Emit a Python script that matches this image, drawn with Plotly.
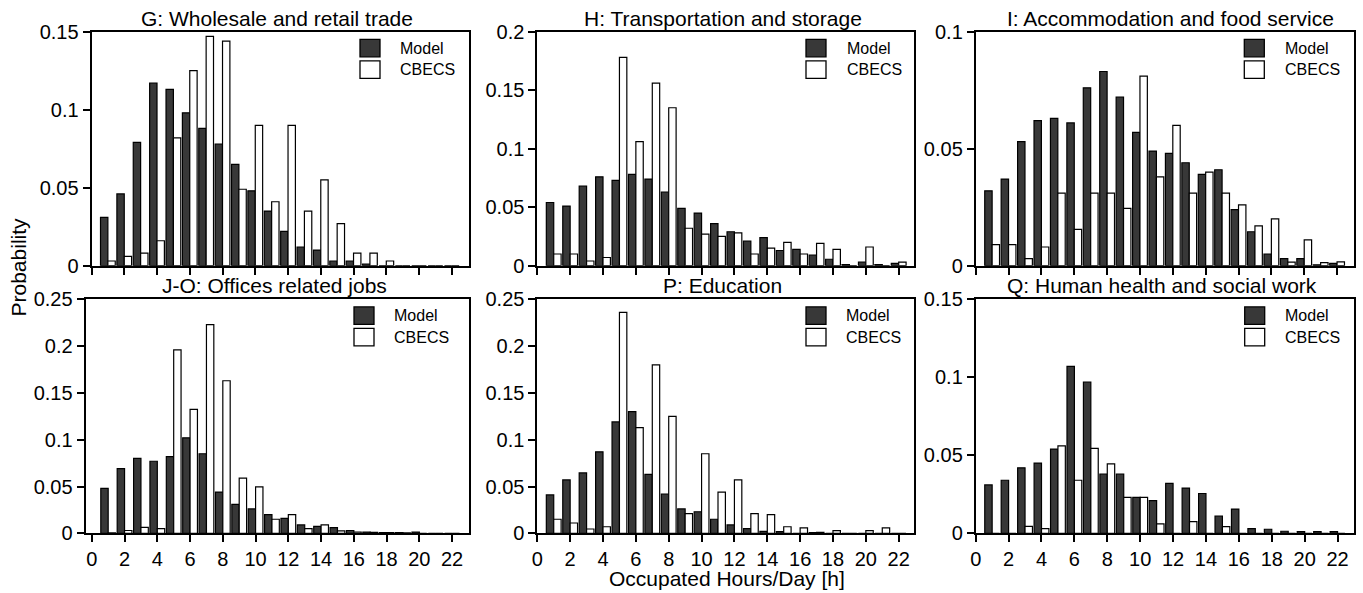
import plotly.graph_objects as go

W, H = 1363, 593

hours = list(range(1, 23))
x_ticks = list(range(0, 23, 2))

titles = ["G: Wholesale and retail trade", "H: Transportation and storage",
          "I: Accommodation and food service", "J-O: Offices related jobs",
          "P: Education", "Q: Human health and social work"]

G_model = [0.031, 0.046, 0.079, 0.117, 0.113, 0.098, 0.088, 0.078, 0.065, 0.048, 0.035,
           0.022, 0.012, 0.010, 0.003, 0.003, 0.001, 0, 0, 0, 0, 0]
G_cbecs = [0.003, 0.006, 0.008, 0.016, 0.082, 0.125, 0.147, 0.144, 0.049, 0.090, 0.041,
           0.090, 0.035, 0.055, 0.027, 0.008, 0.008, 0.003, 0, 0, 0, 0]

H_model = [0.054, 0.051, 0.068, 0.076, 0.073, 0.078, 0.074, 0.063, 0.049, 0.045, 0.036,
           0.029, 0.021, 0.024, 0.013, 0.014, 0.009, 0.0055, 0.001, 0.003, 0.001, 0.002]
H_cbecs = [0.010, 0.010, 0.004, 0.007, 0.178, 0.106, 0.156, 0.135, 0.032, 0.027, 0.025,
           0.028, 0.010, 0.015, 0.020, 0.010, 0.019, 0.014, 0, 0.016, 0, 0.003]

I_model = [0.032, 0.037, 0.053, 0.062, 0.063, 0.061, 0.076, 0.083, 0.072, 0.057, 0.049,
           0.048, 0.044, 0.039, 0.041, 0.024, 0.0145, 0.005, 0.003, 0.003, 0.0004, 0.001]
I_cbecs = [0.009, 0.009, 0.003, 0.008, 0.031, 0.0155, 0.031, 0.031, 0.0245, 0.081, 0.038,
           0.060, 0.031, 0.040, 0.031, 0.026, 0.017, 0.020, 0.0015, 0.011, 0.0013, 0.0016]

JO_model = [0.048, 0.069, 0.080, 0.077, 0.082, 0.102, 0.085, 0.044, 0.031, 0.026, 0.020,
            0.016, 0.009, 0.0075, 0.006, 0.003, 0.0014, 0.0007, 0.0007, 0.0014, 0, 0]
JO_cbecs = [0.0004, 0.003, 0.0064, 0.005, 0.196, 0.1325, 0.223, 0.163, 0.059, 0.0495, 0.015,
            0.020, 0.005, 0.009, 0.0025, 0.0014, 0.001, 0.0007, 0.0004, 0, 0, 0]

P_model = [0.041, 0.057, 0.0645, 0.087, 0.119, 0.130, 0.063, 0.042, 0.026, 0.023, 0.015,
           0.009, 0.005, 0.002, 0.0018, 0, 0.0007, 0, 0, 0, 0, 0]
P_cbecs = [0.015, 0.011, 0.0046, 0.007, 0.236, 0.113, 0.180, 0.125, 0.021, 0.085, 0.044,
           0.057, 0.021, 0.020, 0.007, 0.0057, 0.001, 0.0028, 0, 0.0028, 0.0057, 0]

Q_model = [0.031, 0.034, 0.042, 0.045, 0.054, 0.107, 0.097, 0.038, 0.038, 0.023, 0.021,
           0.032, 0.029, 0.0255, 0.011, 0.0155, 0.003, 0.0026, 0.0013, 0.0011, 0.0011, 0.0011]
Q_cbecs = [0, 0, 0.0045, 0.003, 0.056, 0.034, 0.0545, 0.0445, 0.023, 0.023, 0.006,
           0, 0.0075, 0, 0.0043, 0, 0, 0, 0, 0, 0, 0]

y_ticks = [
    [0, 0.05, 0.1, 0.15],
    [0, 0.05, 0.1, 0.15, 0.2],
    [0, 0.05, 0.1],
    [0, 0.05, 0.1, 0.15, 0.2, 0.25],
    [0, 0.05, 0.1, 0.15, 0.2, 0.25],
    [0, 0.05, 0.1, 0.15],
]
y_tick_text = [[("0" if v == 0 else f"{v:g}") for v in t] for t in y_ticks]

model_series = [G_model, H_model, I_model, JO_model, P_model, Q_model]
cbecs_series = [G_cbecs, H_cbecs, I_cbecs, JO_cbecs, P_cbecs, Q_cbecs]

# layout geometry (pixels)
panel_px = [  # x0, x1, xmin, xmax, y0(top), y1(bottom)
    (91.5, 469.0, 0.0, 23.05, 31.7, 265.7),
    (537.3, 914.3, 0.0, 22.95, 31.7, 265.7),
    (975.7, 1353.5, 0.0, 23.0, 31.7, 265.7),
    (85.5, 469.3, -0.385, 23.05, 299.3, 533.3),
    (537.3, 914.3, 0.0, 22.95, 299.3, 533.3),
    (975.7, 1354.0, 0.0, 23.0, 299.3, 533.3),
]
title_cx = [276.5, 722.5, 1170, 274, 722, 1161.7]
legend_px = [(360, 398.3), (806, 845), (1244.3, 1283.3), (354, 391.7), (806, 844), (1244.7, 1283.3)]

FONT = "Arial, Liberation Sans, sans-serif"
DARK = "#383838"

fx = lambda p: p / W
fy = lambda p: 1 - p / H

fig = go.Figure()
layout = dict(
    width=W, height=H, margin=dict(l=0, r=0, t=0, b=0, autoexpand=False),
    paper_bgcolor="white", plot_bgcolor="white",
    barmode="group", bargap=0.1, bargroupgap=0.0,
    showlegend=False,
    font=dict(family=FONT, size=20, color="black"),
)
annotations = []
shapes = []

for i in range(6):
    n = "" if i == 0 else str(i + 1)
    x0, x1, xmin, xmax, ytop, ybot = panel_px[i]
    fig.add_trace(go.Bar(x=hours, y=model_series[i], name="Model",
                         marker=dict(color=DARK, line=dict(color="black", width=1.2)),
                         xaxis="x" + n, yaxis="y" + n))
    fig.add_trace(go.Bar(x=hours, y=cbecs_series[i], name="CBECS",
                         marker=dict(color="white", line=dict(color="black", width=1.2)),
                         xaxis="x" + n, yaxis="y" + n))
    layout["xaxis" + n] = dict(
        domain=[fx(x0), fx(x1)], range=[xmin, xmax], anchor="y" + n,
        tickvals=x_ticks, ticktext=[str(v) for v in x_ticks],
        showticklabels=(i >= 3), ticks="outside", ticklen=7, tickwidth=1.5,
        tickcolor="black", showline=True, linecolor="black", linewidth=1.8,
        mirror=True, showgrid=False, zeroline=False, automargin=False,
        tickfont=dict(size=20, family=FONT),
    )
    ymax = y_ticks[i][-1]
    layout["yaxis" + n] = dict(
        domain=[fy(ybot), fy(ytop)], range=[0, ymax], anchor="x" + n,
        tickvals=y_ticks[i], ticktext=y_tick_text[i],
        ticks="outside", ticklen=7, tickwidth=1.5, tickcolor="black",
        showline=True, linecolor="black", linewidth=1.8, mirror=True, automargin=False,
        showgrid=False, zeroline=False, tickfont=dict(size=20, family=FONT),
    )
    annotations.append(dict(text=titles[i], x=fx(title_cx[i]), y=fy(ytop),
                            xref="paper", yref="paper", xanchor="center", yanchor="bottom",
                            showarrow=False, font=dict(size=21, family=FONT)))
    # legend
    sx, tx = legend_px[i]
    for k, (lab, col) in enumerate([("Model", DARK), ("CBECS", "white")]):
        sy0 = ytop + 7.6 + k * 21.5
        shapes.append(dict(type="rect", xref="paper", yref="paper",
                           x0=fx(sx), x1=fx(sx + 20), y0=fy(sy0), y1=fy(sy0 + 17.5),
                           fillcolor=col, line=dict(color="black", width=1.3)))
        annotations.append(dict(text=lab, x=fx(tx), y=fy(sy0 + 8.75), xref="paper", yref="paper",
                                xanchor="left", yanchor="middle", showarrow=False,
                                font=dict(size=16, family=FONT)))

annotations.append(dict(text="Probability", x=fx(18), y=fy(267.5), xref="paper", yref="paper",
                        xanchor="center", yanchor="middle", textangle=-90, showarrow=False,
                        font=dict(size=21, family=FONT)))
annotations.append(dict(text="Occupated Hours/Day [h]", x=fx(726.5), y=fy(593), xref="paper",
                        yref="paper", xanchor="center", yanchor="bottom", showarrow=False,
                        yshift=2, borderpad=0, font=dict(size=21, family=FONT)))

layout["annotations"] = annotations
layout["shapes"] = shapes
fig.update_layout(**layout)
fig.write_html("out.html")
